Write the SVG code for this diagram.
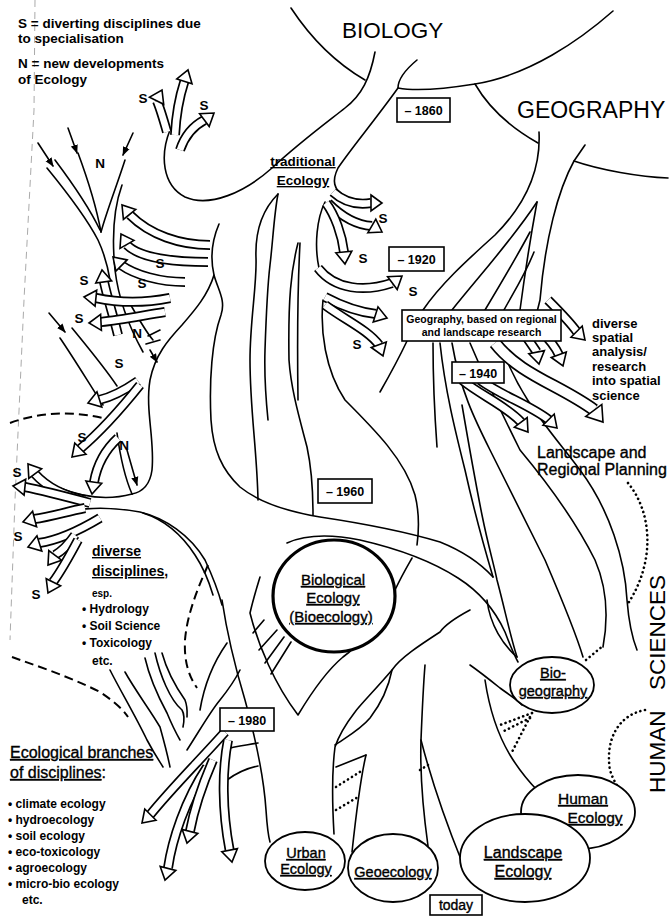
<svg xmlns="http://www.w3.org/2000/svg" width="671" height="918" viewBox="0 0 671 918">
<defs>
<style>
.l{fill:none;stroke:#000;stroke-width:1.6;stroke-linecap:round;stroke-linejoin:round}
.dt{fill:none;stroke:#000;stroke-width:2.6;stroke-linecap:round;stroke-dasharray:0.1 4.6}
.ds{fill:none;stroke:#000;stroke-width:2;stroke-dasharray:9 5}
.fd{fill:none;stroke:#aaa;stroke-width:1;stroke-dasharray:7 5}
.ao{fill:none;stroke:#000;stroke-width:10}
.ai{fill:none;stroke:#fff;stroke-width:6.6}
.aw{fill:none;stroke:#000;stroke-width:13}
.awi{fill:none;stroke:#fff;stroke-width:9.6}
.ah{fill:#fff;stroke:#000;stroke-width:1.6;stroke-linejoin:miter}
.bx{fill:#fff;stroke:#000;stroke-width:1.6}
.el{fill:#fff;stroke:#000;stroke-width:1.8}
text{font-family:"Liberation Sans",Arial,Helvetica,sans-serif;fill:#000}
.b{font-weight:bold}
.u{text-decoration:underline}
.s{font-size:13.5px;font-weight:bold;text-anchor:middle}
.c{text-anchor:middle}
.r{stroke:#000;stroke-width:0.35}
</style>
<marker id="ar" viewBox="0 0 10 10" refX="9" refY="5" markerWidth="9" markerHeight="9" markerUnits="userSpaceOnUse" orient="auto">
<path d="M0,1 L10,5 L0,9 z" fill="#000"/>
</marker>
</defs>
<rect width="671" height="918" fill="#fff"/>

<!-- faint fold line -->
<path class="fd" d="M35,0 L34,110 L24,300 L15,500 L10,640"/>

<g id="connectors">
<!-- top trunk and regions -->
<path class="l" d="M291,8 Q322,55 365,80"/>
<path class="l" d="M170,130 C160,155 162,185 185,197 C210,208 245,192 272,168 C300,142 330,120 345,108 C362,95 370,78 375,52"/>
<path class="l" d="M417,60 C405,70 398,80 398,88 C375,120 350,150 338,168 C332,180 333,190 345,196"/>
<path class="l" d="M398,88 C420,92 450,88 475,84 C530,75 580,40 613,11"/>
<path class="l" d="M475,84 C490,110 515,130 538,143"/>
<path class="l" d="M539,132 C541,170 525,205 495,235 C465,262 440,285 423,310"/>
<path class="l" d="M585,145 L574,161 C600,170 640,177 668,178"/>
<path class="l" d="M574,161 C558,190 545,240 540,300 L537,312"/>
<path class="l" d="M537,202 C512,240 480,275 452,310"/>
<path class="l" d="M537,202 C530,240 524,280 520,310"/>
<path class="l" d="M530,232 C515,260 500,285 485,310"/>
<path class="l" d="M534,252 C525,275 512,295 504,310"/>

<!-- central trunk -->
<path class="l" d="M219,224 C210,245 211,262 214,275 C218,290 226,300 221,315 C212,340 209,380 211,420 C213,450 222,470 240,487 C260,503 290,512 320,517 C360,523 400,530 440,542 C465,552 482,565 493,577"/>
<path class="l" d="M214,275 C208,295 195,310 182,325 C168,340 155,355 150,380 C145,410 155,440 152,470 C150,485 142,492 132,494"/>
<path class="l" d="M278,194 C262,210 255,232 256,258 C257,285 250,320 250,360 C250,410 257,450 258,500"/>
<path class="l" d="M278,194 C274,215 273,240 270,265 C267,290 266,320 265,350 C264,380 266,400 268,420"/>
<path class="l" d="M298,243 C291,270 288,300 289,360 C291,390 300,420 307,447 C312,470 313,495 313,515"/>
<path class="l" d="M300,243 C298,280 297,330 298,400"/>
<path class="l" d="M325,202 C317,218 314,245 319,268"/>
<path class="l" d="M323,300 C320,330 325,370 345,400 C375,430 405,460 415,495 C420,515 419,530 417,545"/>
<path class="l" d="M407,341 C398,360 388,378 380,392"/>
<path class="l" d="M287,543 C305,535 330,534 360,540 C395,548 430,560 458,578 C480,592 495,610 505,632 C510,645 514,655 518,662"/>

<!-- geography lines below box -->
<path class="l" d="M433,343 C433,380 435,420 437,447"/>
<path class="l" d="M440,343 C445,390 455,430 465,470 C475,515 485,550 493,577"/>
<path class="l" d="M462,405 C468,440 475,480 482,515 C488,545 494,565 497,580 C505,610 510,635 517,657"/>
<path class="l" d="M452,343 C460,390 475,420 490,450 C510,490 530,530 545,560 C560,595 575,630 583,657"/>
<path class="l" d="M470,343 C490,390 505,420 520,450 C545,480 575,520 595,560 C608,590 608,620 603,647"/>
<path class="l" d="M500,343 C520,400 550,430 580,470 C610,510 625,560 627,600 C629,625 633,640 637,650"/>

<!-- top-left N lines -->
<path class="l" d="M38,143 L53,166" marker-end="url(#ar)"/>
<path class="l" d="M68,128 L77,153" marker-end="url(#ar)"/>
<path class="l" d="M133,133 L123,155" marker-end="url(#ar)"/>
<path class="l" d="M47,168 C65,190 85,215 98,240 C105,255 108,268 110,280"/>
<path class="l" d="M55,160 C70,180 88,205 100,230"/>
<path class="l" d="M78,153 C88,180 96,205 101,232"/>
<path class="l" d="M125,160 C117,185 107,210 101,232"/>
<path class="l" d="M122,185 C113,210 112,240 115,270 C118,295 128,325 143,352"/>
<path class="l" d="M128,300 C138,318 146,332 153,340"/>

<!-- lower-left region -->
<path class="l" d="M49,313 L65,332" marker-end="url(#ar)"/>
<path class="l" d="M60,338 C75,360 90,385 103,405"/>
<path class="l" d="M72,328 C90,350 105,368 117,386"/>
<path class="l" d="M127,450 L137,485" marker-end="url(#ar)"/>
<path class="l" d="M150,350 L157,362" marker-end="url(#ar)"/>
<path class="l" d="M117,433 C120,455 125,478 132,494"/>
<path class="l" d="M148,336 L160,330 M146,344 L160,340"/>
<path class="l" d="M132,494 C110,500 85,498 60,488"/>
<path class="l" d="M40,520 C70,508 100,505 140,512 C165,518 190,535 205,560 C212,575 218,590 222,605"/>
<path class="l" d="M143,513 C165,520 182,535 195,555 C205,570 210,585 213,595"/>

<!-- under Biological Ecology -->
<path class="l" d="M260,577 C256,590 253,600 250,613 C258,645 275,685 298,715 C310,695 325,672 343,657 C360,645 380,620 395,590 C402,575 408,565 412,558"/>
<path class="l" d="M253,633 L264,620 M259,650 L277,630 M265,663 L284,637 M271,674 L291,642"/>

<!-- bottom centre -->
<path class="l" d="M470,610 C455,618 445,625 440,632 C420,645 400,658 392,670 C375,690 360,705 355,712 C345,725 338,738 335,747 C332,770 332,800 334,834"/>
<path class="l" d="M392,670 C388,690 380,705 370,718 C360,730 345,738 335,745"/>
<path class="l" d="M425,665 C423,690 422,715 421,740 C420,770 423,810 428,846"/>
<path class="l" d="M421,740 C430,775 445,820 462,862"/>
<path class="l" d="M366,755 C360,780 356,815 352,852"/>
<path class="l" d="M366,755 L336,767"/>
<path class="l" d="M470,665 C480,672 490,680 500,688 C508,694 515,698 522,705"/>
<path class="l" d="M485,680 C488,700 495,730 510,755 C525,780 545,800 568,817"/>
<path class="l" d="M487,600 C490,625 503,645 517,657"/>

<!-- lower-left trunk -->
<path class="l" d="M222,600 C228,640 236,670 245,700 C256,740 264,780 266,810 C267,825 268,835 270,842"/>
<path class="l" d="M227,643 C215,660 205,680 200,710"/>
<path class="l" d="M110,670 C120,690 135,715 147,740 C155,755 160,762 163,767"/>
<path class="l" d="M125,672 C135,690 150,710 160,727 C165,745 168,757 170,767"/>
<path class="l" d="M145,658 C150,680 160,700 167,713 C172,725 176,733 180,740"/>
<path class="l" d="M155,653 C160,675 170,700 182,710 C185,715 184,722 183,727"/>
<path class="l" d="M162,653 C168,675 178,690 185,700 C188,708 187,715 187,717"/>
<path class="l" d="M187,750 C200,730 210,712 220,700 C228,690 235,680 240,670"/>
<path class="l" d="M223,750 C235,746 248,745 258,743 M227,780 C238,772 248,768 258,766"/>

<!-- dashed boundaries -->
<path class="ds" d="M10,423 C40,412 75,410 110,420"/>
<path class="ds" d="M12,657 C40,667 70,677 100,692 C112,700 122,708 128,717"/>
<path class="ds" d="M208,565 C197,590 187,615 185,640 C184,660 188,675 197,688"/>

<!-- dotted connections -->
<path class="dt" d="M628,483 C652,512 656,562 627,605"/>
<path class="dt" d="M586,660 L604,645"/>
<path class="dt" d="M645,710 C618,715 605,740 610,770 C613,780 618,788 623,793"/>
<path class="dt" d="M532,713 L500,725 M530,718 L502,732 M532,713 L512,752"/>
<path class="dt" d="M336,787 L363,770 M336,810 L358,797 M420,770 L428,765"/>

<!-- block arrows: top group -->
<path class="ao" d="M175,135 C176,115 180,95 184.5,81"/><path class="ai" d="M175,135 C176,115 180,95 184.5,81"/><polygon class="ah" points="192,83.8 188,70 176.8,79"/>
<path class="ao" d="M167,132 C163,118 160,108 157,101"/><path class="ai" d="M167,132 C163,118 160,108 157,101"/><polygon class="ah" points="163.7,104.3 162,90 149.5,97.1"/>
<path class="ao" d="M180,150 C185,135 195,125 204.5,120"/><path class="ai" d="M180,150 C185,135 195,125 204.5,120"/><polygon class="ah" points="209.2,126.6 214,113 199.6,113.8"/>

<!-- left arm arrows -->
<path class="ao" d="M210,245 C180,245 150,235 130,215"/><path class="ai" d="M210,245 C180,245 150,235 130,215"/><polygon class="ah" points="135.8,209.4 122,205 123.4,219.4"/>
<path class="ao" d="M208,262 C175,262 140,258 127,245"/><path class="ai" d="M208,262 C175,262 140,258 127,245"/><polygon class="ah" points="134,240.4 121,234 120,248.4"/>
<path class="ao" d="M185,282 C160,282 135,275 121,265"/><path class="ai" d="M185,282 C160,282 135,275 121,265"/><polygon class="ah" points="127.1,259.9 113,257 115.9,271.1"/>
<path class="ao" d="M118,335 C113,315 108,300 104,282"/><path class="ai" d="M118,335 C113,315 108,300 104,282"/><polygon class="ah" points="111.6,280.8 102,270 95.8,283"/>
<path class="ao" d="M170,298 C140,304 115,302 96,298"/><path class="ai" d="M170,298 C140,304 115,302 96,298"/><polygon class="ah" points="96.7,290.2 84,297 95.1,306.2"/>
<path class="ao" d="M165,312 C140,316 120,320 101,322"/><path class="ai" d="M165,312 C140,316 120,320 101,322"/><polygon class="ah" points="100.6,314.4 89,323 101.4,330.4"/>

<!-- lower-left arrows -->
<path class="ao" d="M138,381 C125,390 112,397 99,400"/><path class="ai" d="M138,381 C125,390 112,397 99,400"/><polygon class="ah" points="97,391.8 88,403 101.8,407"/>
<path class="ao" d="M140,385 C120,410 100,432 80,449"/><path class="ai" d="M140,385 C120,410 100,432 80,449"/><polygon class="ah" points="74.8,443 72,457 86,454.2"/>
<path class="ao" d="M118,438 C105,450 97,465 94,482"/><path class="ai" d="M118,438 C105,450 97,465 94,482"/><polygon class="ah" points="85.9,480.9 92,494 101.7,483.3"/>
<path class="ao" d="M85,500 C60,495 45,485 35,474"/><path class="ai" d="M85,500 C60,495 45,485 35,474"/><polygon class="ah" points="41.6,468.8 28,464 28.8,478.4"/>
<path class="ao" d="M90,503 C60,495 40,490 25,487"/><path class="ai" d="M90,503 C60,495 40,490 25,487"/><polygon class="ah" points="25.7,479.2 13,486 24.1,495.2"/>
<path class="ao" d="M85,508 C65,512 50,517 34,519"/><path class="ai" d="M85,508 C65,512 50,517 34,519"/><polygon class="ah" points="32.6,511.2 23,522 36.6,526.8"/>
<path class="ao" d="M100,518 C80,530 60,540 39,543"/><path class="ai" d="M100,518 C80,530 60,540 39,543"/><polygon class="ah" points="37,535.8 28,547 41.8,551"/>
<path class="ao" d="M75,535 C68,545 62,551 55,555"/><path class="ai" d="M75,535 C68,545 62,551 55,555"/><polygon class="ah" points="48.8,550.6 48,565 61.6,560.2"/>
<path class="ao" d="M78,540 C70,555 62,570 53,582"/><path class="ai" d="M78,540 C70,555 62,570 53,582"/><polygon class="ah" points="46.2,578.7 48,593 60.6,585.9"/>

<!-- traditional ecology S arrows -->
<path class="ao" d="M333,192 C345,203 358,205 371,203"/><path class="ai" d="M333,192 C345,203 358,205 371,203"/><polygon class="ah" points="371,195 382,203 371,211"/>
<path class="ao" d="M328,203 C340,215 355,225 372,226"/><path class="ai" d="M328,203 C340,215 355,225 372,226"/><polygon class="ah" points="367.8,232.8 382,232 375.8,219.2"/>
<path class="ao" d="M326,203 C335,215 342,235 344,252"/><path class="ai" d="M326,203 C335,215 342,235 344,252"/><polygon class="ah" points="335.8,252.8 345,264 351.8,251.2"/>
<path class="ao" d="M318,268 C335,290 365,292 392,283"/><path class="ai" d="M318,268 C335,290 365,292 392,283"/><polygon class="ah" points="397.2,289.6 402,276 387.6,276.8"/>
<path class="ao" d="M325,297 C340,305 358,312 376,314"/><path class="ai" d="M325,297 C340,305 358,312 376,314"/><polygon class="ah" points="373.2,322 387,318 378,306.8"/>
<path class="ao" d="M325,305 C345,320 368,330 379,345"/><path class="ai" d="M325,305 C345,320 368,330 379,345"/><polygon class="ah" points="371.3,347.5 383,356 386.3,341.9"/>

<!-- geography arrows -->
<path class="ao" d="M548,300 C560,312 570,322 577,332"/><path class="ai" d="M548,300 C560,312 570,322 577,332"/><polygon class="ah" points="571,337.2 585,340 582.2,326"/>
<path class="ao" d="M525,335 C530,342 534,348 536.7,352"/><path class="ai" d="M525,335 C530,342 534,348 536.7,352"/><polygon class="ah" points="528.8,353.8 539,364 544.4,350.6"/>
<path class="ao" d="M540,330 C548,338 555,346 559,355"/><path class="ai" d="M540,330 C548,338 555,346 559,355"/><polygon class="ah" points="551.3,357.5 563,366 566.3,351.9"/>
<path class="ao" d="M462,380 C480,395 505,405 521,422"/><path class="ai" d="M462,380 C480,395 505,405 521,422"/><polygon class="ah" points="514.4,427.2 528,432 527.2,417.6"/>
<path class="ao" d="M480,380 C500,395 530,405 549,420"/><path class="ai" d="M480,380 C500,395 530,405 549,420"/><polygon class="ah" points="543,425.2 557,428 554.2,414"/>
<path class="aw" d="M495,343 C520,375 560,385 594,410"/><path class="awi" d="M495,343 C520,375 560,385 594,410"/><polygon class="ah" points="585.8,416.4 603,422 601.8,404.4"/>

<!-- bottom-left arrows -->
<path class="ao" d="M225,732 C200,760 170,790 150,815"/><path class="ai" d="M225,732 C200,760 170,790 150,815"/><polygon class="ah" points="144.8,809 142,823 156,820.2"/>
<path class="ao" d="M207,767 C185,800 172,840 168,868"/><path class="ai" d="M207,767 C185,800 172,840 168,868"/><polygon class="ah" points="160.2,866.4 165,880 175.8,870.4"/>
<path class="ao" d="M213,760 C200,790 193,815 190,831"/><path class="ai" d="M213,760 C200,790 193,815 190,831"/><polygon class="ah" points="182.2,829.4 187,843 197.8,833.4"/>
<path class="ao" d="M228,740 C222,770 222,810 229.6,850"/><path class="ai" d="M228,740 C222,770 222,810 229.6,850"/><polygon class="ah" points="221.8,851.8 232,862 237.4,848.6"/>
</g>

<!-- date boxes -->
<g id="d1860"><rect class="bx" x="397" y="98" width="53" height="24"/><text class="b c" x="423.5" y="115" font-size="12.5">– 1860</text></g>
<g id="d1920"><rect class="bx" x="389" y="247" width="55" height="24"/><text class="b c" x="416.5" y="264" font-size="12.5">– 1920</text></g>
<g id="geobox"><rect class="bx" x="402" y="310" width="159" height="31"/><text class="b c" x="481.5" y="322.5" font-size="10.5">Geography, based on regional</text><text class="b c" x="481.5" y="336" font-size="10.5">and landscape research</text></g>
<g id="d1940"><rect class="bx" x="452" y="362" width="52" height="21"/><text class="b c" x="478" y="377.5" font-size="12.5">– 1940</text></g>
<g id="d1960"><rect class="bx" x="318" y="479" width="54" height="24"/><text class="b c" x="345" y="496" font-size="12.5">– 1960</text></g>
<g id="d1980"><rect class="bx" x="220" y="708" width="54" height="23"/><text class="b c" x="247" y="724.5" font-size="12.5">– 1980</text></g>
<g id="today"><rect class="bx" x="430" y="895" width="52" height="20"/><text class="c r" x="456" y="910" font-size="14">today</text></g>

<!-- ellipses -->
<g id="bioecology"><ellipse cx="334" cy="596" rx="61" ry="56" fill="#fff" stroke="#000" stroke-width="3.2"/>
<text class="c u r" x="333" y="585" font-size="15">Biological</text><text class="c u r" x="333" y="603" font-size="15">Ecology</text><text class="c u r" x="331" y="622" font-size="15">(Bioecology)</text></g>
<g id="biogeo"><ellipse class="el" cx="552" cy="685" rx="42" ry="28"/><text class="c u r" x="553" y="678" font-size="14.5">Bio-</text><text class="c u r" x="553" y="696" font-size="14.5">geography</text></g>
<g id="urban"><ellipse class="el" cx="305" cy="861" rx="40" ry="29"/><text class="c u r" x="306" y="858" font-size="14.5">Urban</text><text class="c u r" x="306" y="874" font-size="14.5">Ecology</text></g>
<g id="geoeco"><ellipse class="el" cx="393" cy="868" rx="45" ry="34"/><text class="c u r" x="393" y="877" font-size="14.5">Geoecology</text></g>
<g id="human"><ellipse class="el" cx="578" cy="812" rx="57" ry="37"/><text class="c u r" x="583" y="804" font-size="15.5">Human</text><text class="c u r" x="595" y="823" font-size="15.5">Ecology</text></g>
<g id="landscape"><ellipse class="el" cx="525" cy="858" rx="65" ry="44"/><text class="c u r" x="523" y="858" font-size="16">Landscape</text><text class="c u r" x="523" y="877" font-size="16">Ecology</text></g>

<!-- headings and labels -->
<g id="legend">
<text class="b" x="18" y="28" font-size="13.5">S = diverting disciplines due</text>
<text class="b" x="18" y="43" font-size="13.5">to specialisation</text>
<text class="b" x="18" y="68" font-size="13.5">N = new developments</text>
<text class="b" x="18" y="84" font-size="13.5">of Ecology</text>
</g>
<g id="biology"><text x="342" y="38" font-size="22.5">BIOLOGY</text></g>
<g id="geography"><text x="517" y="118" font-size="23">GEOGRAPHY</text></g>
<g id="humansci"><text transform="translate(665,793) rotate(-90)" font-size="22.5">HUMAN</text><text transform="translate(665,690) rotate(-90)" font-size="22.5">SCIENCES</text></g>
<g id="tradeco"><text class="b c u" x="303" y="166" font-size="13.5">traditional</text><text class="b c u" x="303" y="185" font-size="13.5">Ecology</text></g>
<g id="spatial">
<text class="b" x="592" y="328" font-size="13">diverse</text>
<text class="b" x="592" y="342" font-size="13">spatial</text>
<text class="b" x="592" y="356" font-size="13">analysis/</text>
<text class="b" x="592" y="371" font-size="13">research</text>
<text class="b" x="592" y="385" font-size="13">into spatial</text>
<text class="b" x="592" y="400" font-size="13">science</text>
</g>
<g id="planning"><text class="r" x="537" y="458" font-size="16">Landscape and</text><text class="r" x="537" y="475" font-size="16">Regional Planning</text></g>
<g id="diverse">
<text class="b u" x="92" y="556" font-size="14">diverse</text>
<text class="b" x="92" y="576" font-size="14"><tspan class="u">disciplines</tspan>,</text>
<text class="b" x="92" y="597" font-size="10">esp.</text>
<text class="b" x="82" y="613" font-size="12">• Hydrology</text>
<text class="b" x="82" y="630" font-size="12">• Soil Science</text>
<text class="b" x="82" y="647" font-size="12">• Toxicology</text>
<text class="b" x="92" y="665" font-size="12">etc.</text>
</g>
<g id="branches">
<text class="r u" x="10" y="758" font-size="16">Ecological branches</text>
<text class="r" x="10" y="778" font-size="16"><tspan class="u">of disciplines</tspan>:</text>
<text class="b" x="8" y="808" font-size="12">•  climate ecology</text>
<text class="b" x="8" y="824" font-size="12">•  hydroecology</text>
<text class="b" x="8" y="840" font-size="12">•  soil ecology</text>
<text class="b" x="8" y="856" font-size="12">•  eco-toxicology</text>
<text class="b" x="8" y="872" font-size="12">•  agroecology</text>
<text class="b" x="8" y="888" font-size="12">•  micro-bio ecology</text>
<text class="b" x="22" y="904" font-size="12">etc.</text>
</g>
<g id="letters">
<text class="s" x="143" y="103">S</text>
<text class="s" x="204" y="110">S</text>
<text class="s" x="100" y="168">N</text>
<text class="s" x="160" y="268">S</text>
<text class="s" x="142" y="288">S</text>
<text class="s" x="84" y="285">S</text>
<text class="s" x="79" y="323">S</text>
<text class="s" x="137" y="338">N</text>
<text class="s" x="119" y="368">S</text>
<text class="s" x="82" y="442">S</text>
<text class="s" x="124" y="450">N</text>
<text class="s" x="17" y="477">S</text>
<text class="s" x="18" y="541">S</text>
<text class="s" x="36" y="599">S</text>
<text class="s" x="383" y="223">S</text>
<text class="s" x="363" y="263">S</text>
<text class="s" x="413" y="296">S</text>
<text class="s" x="357" y="349">S</text>
</g>
</svg>
